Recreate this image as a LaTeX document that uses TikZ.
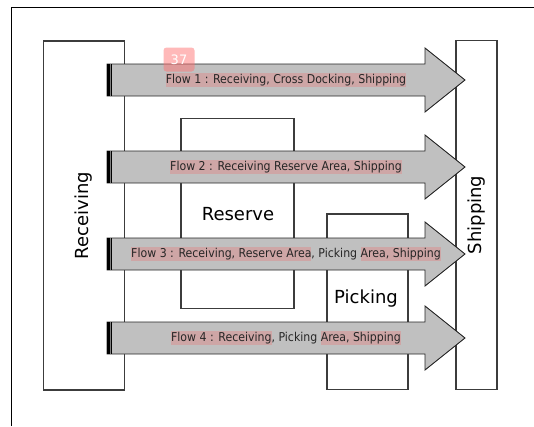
\documentclass[tikz,border=0pt]{standalone}
\usepackage{fontspec}
\setmainfont{DejaVu Sans}
\newfontfamily\condfont{DejaVu Sans Condensed}
\usetikzlibrary{positioning}
\definecolor{silver}{RGB}{192,192,192}
\definecolor{hlcolor}{RGB}{206,166,166}
\definecolor{boxline}{RGB}{60,60,60}
\newcommand{\hlt}[1]{{\setlength{\fboxsep}{0pt}\colorbox{hlcolor}{\rule[-4pt]{0pt}{14pt}#1}}}
\tikzset{
    area/.style={draw=boxline, line width=1.1pt, inner sep=0pt},
    flowbody/.style={draw=black!85, fill=silver, line width=0.9pt},
    flowlabel/.style={font=\condfont\fontsize{12.2}{14}\selectfont, inner sep=0pt, text=black!85},
    arealabel/.style={font=\fontsize{18}{20}\selectfont},
    badge/.style={fill=red!55!white, fill opacity=0.5, text opacity=1, text=white, rounded corners=3pt,
        minimum width=31pt, minimum height=24pt, font=\fontsize{13}{13}\selectfont}
}

\begin{document}
\begin{tikzpicture}[x=1pt,y=-1pt]
    \useasboundingbox (0,0) rectangle (534,426);
    \draw[line width=1pt] (11,426) -- (11,7.5) -- (534,7.5);
    % areas
    \node[area, minimum width=81pt, minimum height=349pt] at (84,215.5) (recv) {};
    \node[area, minimum width=113pt, minimum height=189.5pt] at (237.5,213.3) (resv) {};
    \node[area, minimum width=81pt, minimum height=175.5pt] at (367.5,301.7) (pick) {};
    \node[area, minimum width=41pt, minimum height=349pt] at (476.5,215) (ship) {};
    \node[arealabel, rotate=90] at (recv.center) (recvlabel) {Receiving};
    \node[arealabel, rotate=90] at (ship.center) (shiplabel) {Shipping};
    \node[arealabel] at (238,214) (resvlabel) {Reserve};
    \node[arealabel] at (366,299) (picklabel) {Picking};
    % flows
    \foreach \y in {80,167,254,338} {
        \draw[flowbody] (107,\y-16) -- (425,\y-16) -- (425,\y-32) -- (465,\y)
            -- (425,\y+32) -- (425,\y+16) -- (107,\y+16) -- cycle;
        \fill[black] (107,\y-16.4) rectangle (112,\y+16.4);
        \draw[gray, line width=0.6pt] (110.3,\y-16) -- (110.3,\y+16);
    }
    \node[flowlabel] at (286,80) (flow1) {\hlt{Flow 1 : Receiving, Cross Docking, Shipping}};
    \node[flowlabel] at (286,167) (flow2) {\hlt{Flow 2 : Receiving Reserve Area, Shipping}};
    \node[flowlabel] at (286,254) (flow3) {\hlt{Flow 3 : Receiving, Reserve Area}, Picking \hlt{Area, Shipping}};
    \node[flowlabel] at (286,338) (flow4) {\hlt{Flow 4 : Receiving}, Picking \hlt{Area, Shipping}};
    \node[badge] at (179,59.5) (note) {37};
\end{tikzpicture}
\end{document}
